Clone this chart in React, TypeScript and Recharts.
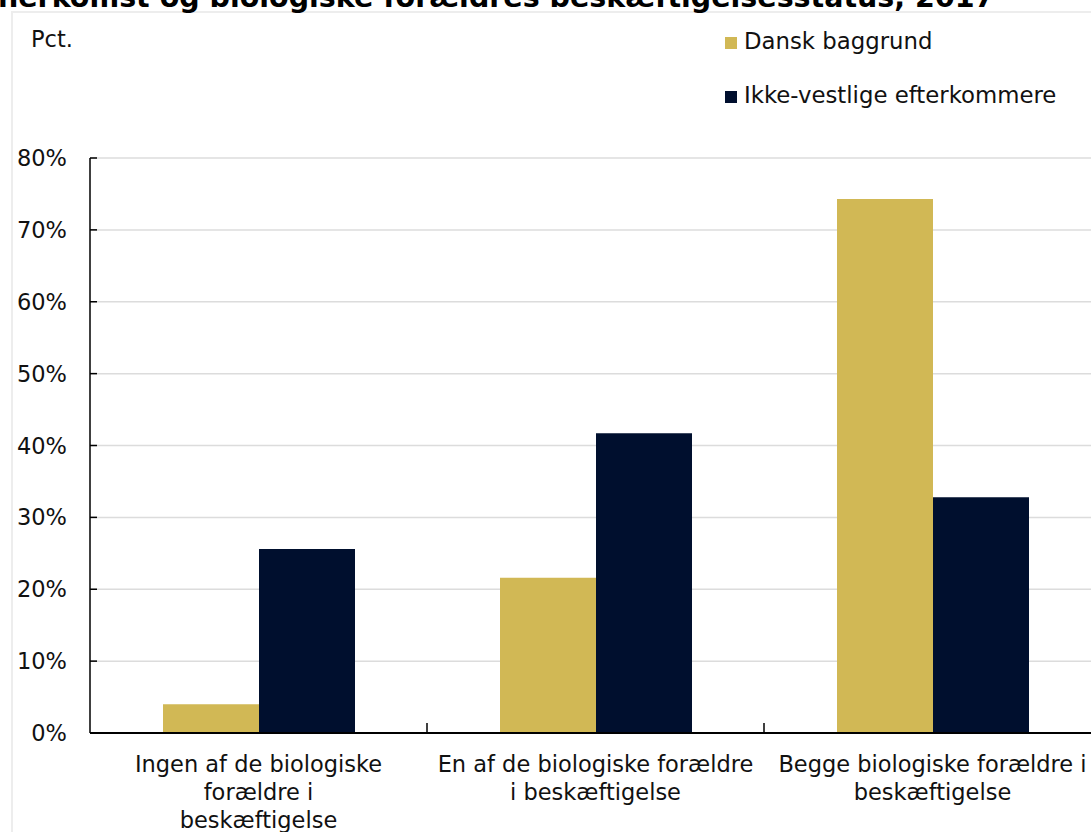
import React from "react";
import { BarChart, Bar, XAxis, YAxis, CartesianGrid } from "recharts";

// data
const categories = [
  "Ingen af de biologiske forældre i beskæftigelse",
  "En af de biologiske forældre i beskæftigelse",
  "Begge biologiske forældre i beskæftigelse"
];

const categoryLines = [
  ["Ingen af de biologiske", "forældre i", "beskæftigelse"],
  ["En af de biologiske forældre", "i beskæftigelse"],
  ["Begge biologiske forældre i", "beskæftigelse"]
];

const danskValues = [4.0, 21.6, 74.3];
const ikkeVestligeValues = [25.6, 41.7, 32.8];

const seriesNames = ["Dansk baggrund", "Ikke-vestlige efterkommere"];
const seriesColors = ["#D1B855", "#000F2E"];

const yTicks = [0, 10, 20, 30, 40, 50, 60, 70, 80];

const title = "herkomst og biologiske forældres beskæftigelsesstatus, 2017";

const FONT = "'DejaVu Sans', sans-serif";

const chartData = categories.map((name, i) => ({
  name,
  dansk: danskValues[i],
  ikke: ikkeVestligeValues[i]
}));

const CHART_W = 1112;
const CHART_H = 832;
const MARGIN = { top: 158, right: 11, left: 30, bottom: 0 };
const Y_W = 60;
const PLOT_W = CHART_W - MARGIN.left - MARGIN.right - Y_W;
const CAT_W = PLOT_W / categories.length;

function YTick(props: any) {
  const { x, y, payload } = props;
  return (
    <g>
      <line x1={x} x2={x + 7} y1={y} y2={y} stroke="#000" strokeWidth={1.5} />
      <text
        x={x - 23}
        y={y}
        dy="0.36em"
        textAnchor="end"
        fontFamily={FONT}
        fontSize={22.5}
        fill="#111"
      >
        {payload.value}%
      </text>
    </g>
  );
}

function XTick(props: any) {
  const { x, y, index } = props;
  const lines = categoryLines[index] || [];
  return (
    <g>
      {index < categories.length - 1 && (
        <line
          x1={x + CAT_W / 2}
          x2={x + CAT_W / 2}
          y1={y - 10}
          y2={y}
          stroke="#000"
          strokeWidth={1.5}
        />
      )}
      {lines.map((ln: string, i: number) => (
        <text
          key={i}
          x={x}
          y={y + 39 + i * 28}
          textAnchor="middle"
          fontFamily={FONT}
          fontSize={22.5}
          fill="#111"
        >
          {ln}
        </text>
      ))}
    </g>
  );
}

export default function App() {
  return (
    <div
      style={{
        position: "fixed",
        left: 0,
        top: 0,
        width: 1091,
        height: 832,
        overflow: "hidden",
        background: "#fff"
      }}
    >
      {/* frame */}
      <div
        style={{
          position: "absolute",
          left: 11,
          top: 11,
          width: 1200,
          height: 900,
          borderLeft: "2px solid #ededed",
          borderTop: "2px solid #ededed"
        }}
      />

      <div style={{ position: "absolute", left: 0, top: 0 }}>
        <BarChart
          width={CHART_W}
          height={CHART_H}
          data={chartData}
          margin={MARGIN}
          barGap={0}
          barSize={96}
        >
          <CartesianGrid
            vertical={false}
            stroke="#dcdcdc"
            strokeWidth={1.5}
          />
          <XAxis
            dataKey="name"
            height={99}
            interval={0}
            tickSize={0}
            tickMargin={0}
            tickLine={false}
            tick={<XTick />}
            axisLine={{ stroke: "#000", strokeWidth: 2 }}
          />
          <YAxis
            width={Y_W}
            domain={[0, 80]}
            ticks={yTicks}
            interval={0}
            tickSize={0}
            tickMargin={0}
            tickLine={false}
            tick={<YTick />}
            axisLine={{ stroke: "#000", strokeWidth: 1.5 }}
          />
          <Bar
            dataKey="dansk"
            name={seriesNames[0]}
            fill={seriesColors[0]}
            isAnimationActive={false}
          />
          <Bar
            dataKey="ikke"
            name={seriesNames[1]}
            fill={seriesColors[1]}
            isAnimationActive={false}
          />
        </BarChart>
      </div>

      {/* title, unit and legend */}
      <svg
        width={1091}
        height={832}
        style={{ position: "absolute", left: 0, top: 0, pointerEvents: "none" }}
      >
        <text
          x={-2}
          y={7}
          fontFamily={FONT}
          fontWeight={700}
          fontSize={28.5}
          fill="#000"
        >
          {title}
        </text>
        <text x={31} y={47} fontFamily={FONT} fontSize={22.5} fill="#111">
          Pct.
        </text>
        {seriesNames.map((s, i) => (
          <g key={s}>
            <rect
              x={725}
              y={37 + i * 54}
              width={12}
              height={12}
              fill={seriesColors[i]}
            />
            <text
              x={744}
              y={49 + i * 54}
              fontFamily={FONT}
              fontSize={22.8}
              fill="#111"
            >
              {s}
            </text>
          </g>
        ))}
      </svg>
    </div>
  );
}
